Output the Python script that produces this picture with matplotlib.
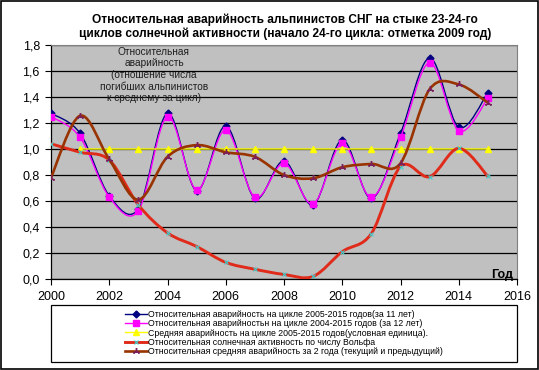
import numpy as np
import matplotlib
matplotlib.use("Agg")
import matplotlib.pyplot as plt
from matplotlib.path import Path
from matplotlib.patches import PathPatch, Rectangle
from matplotlib.lines import Line2D
from matplotlib.ticker import FuncFormatter, MultipleLocator

plt.rcParams["font.family"] = ["Liberation Sans", "DejaVu Sans"]

# data
years = [2000, 2001, 2002, 2003, 2004, 2005, 2006, 2007,
         2008, 2009, 2010, 2011, 2012, 2013, 2014, 2015]
years_mean = years[1:]

rel_11 = [1.275, 1.12, 0.64, 0.54, 1.275, 0.68, 1.177, 0.62,
          0.908, 0.57, 1.07, 0.62, 1.12, 1.70, 1.167, 1.433]
rel_12 = [1.25, 1.09, 0.63, 0.525, 1.25, 0.685, 1.146, 0.628,
          0.89, 0.577, 1.044, 0.628, 1.09, 1.665, 1.14, 1.39]
mean_level = [1.0, 1.0, 1.0, 1.0, 1.0, 1.0, 1.0, 1.0,
              1.0, 1.0, 1.0, 1.0, 1.0, 1.0, 1.0]
solar = [1.04, 0.975, 0.915, 0.57, 0.355, 0.25, 0.128, 0.075,
         0.035, 0.02, 0.21, 0.35, 0.865, 0.787, 1.005, 0.79]
rel_2yr = [0.78, 1.256, 0.92, 0.61, 0.94, 1.03, 0.975, 0.94,
           0.80, 0.775, 0.86, 0.885, 0.89, 1.46, 1.497, 1.356]

labels = [
    "Относительная аварийность на цикле 2005-2015 годов(за 11 лет)",
    "Относительная аварийностьн на цикле 2004-2015 годов (за 12 лет)",
    "Средняя аварийность на цикле 2005-2015 годов(условная единица).",
    "Относительная солнечная активность по числу Вольфа",
    "Относительная средняя аварийность за 2 года (текущий и предыдущий)",
]

W, H = 539, 370


def fx(px):
    return px / W


def fy(py):
    return 1 - py / H


def smooth_path(x, y):
    # Excel-like smoothed line: cubic Bezier through every point
    x = np.asarray(x, float)
    y = np.asarray(y, float)
    n = len(x)
    verts = [(x[0], y[0])]
    codes = [Path.MOVETO]
    for i in range(n - 1):
        i0 = max(i - 1, 0)
        i3 = min(i + 2, n - 1)
        c1 = (x[i] + (x[i + 1] - x[i0]) / 6, y[i] + (y[i + 1] - y[i0]) / 6)
        c2 = (x[i + 1] - (x[i3] - x[i]) / 6, y[i + 1] - (y[i3] - y[i]) / 6)
        verts += [c1, c2, (x[i + 1], y[i + 1])]
        codes += [Path.CURVE4] * 3
    return Path(verts, codes)


fig = plt.figure(figsize=(W / 100, H / 100), dpi=100)
ax = fig.add_axes([fx(51), fy(279), fx(517) - fx(51), fy(45) - fy(279)])
ax.set_facecolor("#c0c0c0")

series = [
    (years, rel_11, "#000080", 1.0, dict(marker="D", ms=3.5, mfc="#000080", mec="#000080")),
    (years, rel_12, "#ff00ff", 1.0, dict(marker="s", ms=4, mfc="#ff00ff", mec="#ff00ff")),
    (years_mean, mean_level, "#ffff00", 1.0, dict(marker="^", ms=4.5, mfc="#ffff00", mec="#ffff00")),
    (years, solar, "#e02a1a", 2.1, dict(marker="x", ms=3.5, mec="#40d0d0", mew=0.8)),
    (years, rel_2yr, "#993300", 1.9, dict(marker=(3, 2, 0), ms=5, mec="#7a1f5c", mew=1.0)),
]

handles = []
for k, (xs, ys, col, lw, mk) in enumerate(series):
    ax.add_patch(PathPatch(smooth_path(xs, ys), fill=False, edgecolor=col,
                           lw=lw, zorder=3 + k, capstyle="round", joinstyle="round"))
    ax.plot(xs, ys, ls="none", zorder=3.5 + k, **mk)
    handles.append(Line2D([], [], color=col, lw=lw, **mk))

ax.set_xlim(2000, 2016)
ax.set_ylim(0, 1.8)
ax.xaxis.set_major_locator(MultipleLocator(2))
ax.yaxis.set_major_locator(MultipleLocator(0.2))
ax.yaxis.set_major_formatter(FuncFormatter(lambda v, p: f"{v:.1f}".replace(".", ",")))
ax.tick_params(axis="both", direction="out", length=4, width=0.8, labelsize=9, color="black")
ax.tick_params(axis="y", pad=4)
ax.tick_params(axis="x", pad=5)
ax.grid(axis="y", color="black", lw=0.9)
ax.set_axisbelow(True)
for s in ["left", "bottom"]:
    ax.spines[s].set_color("black")
    ax.spines[s].set_linewidth(0.9)
for s in ["top", "right"]:
    ax.spines[s].set_color("#808080")
    ax.spines[s].set_linewidth(0.8)

fig.text(fx(285), fy(27), "Относительная аварийность альпинистов СНГ на стыке 23-24-го\n"
         "циклов солнечной активности (начало 24-го цикла: отметка 2009 год)",
         ha="center", va="center", fontsize=8.6, fontweight="bold", linespacing=1.2)

fig.text(fx(154), fy(75), "Относительная\nаварийность\n(отношение числа\nпогибших альпинистов\nк среднему за цикл)",
         ha="center", va="center", fontsize=7.3, linespacing=1.2, color="#202020")

fig.text(fx(502), fy(275), "Год", ha="center", va="center", fontsize=9, fontweight="bold")

fig.legend(handles, labels, loc="center", bbox_to_anchor=(fx(284), fy(333)),
           frameon=False, fontsize=6.3, handlelength=2.5, handletextpad=0.2,
           labelspacing=0.05, borderpad=0)
fig.patches.append(Rectangle((fx(51), fy(362)), fx(517) - fx(51), fy(305) - fy(362),
                             transform=fig.transFigure, fill=False, ec="black", lw=0.9))
fig.patches.append(Rectangle((0.001, 0.002), 0.997, 0.996, transform=fig.transFigure,
                             fill=False, ec="black", lw=1.2))

fig.savefig("out.png", dpi=100)
